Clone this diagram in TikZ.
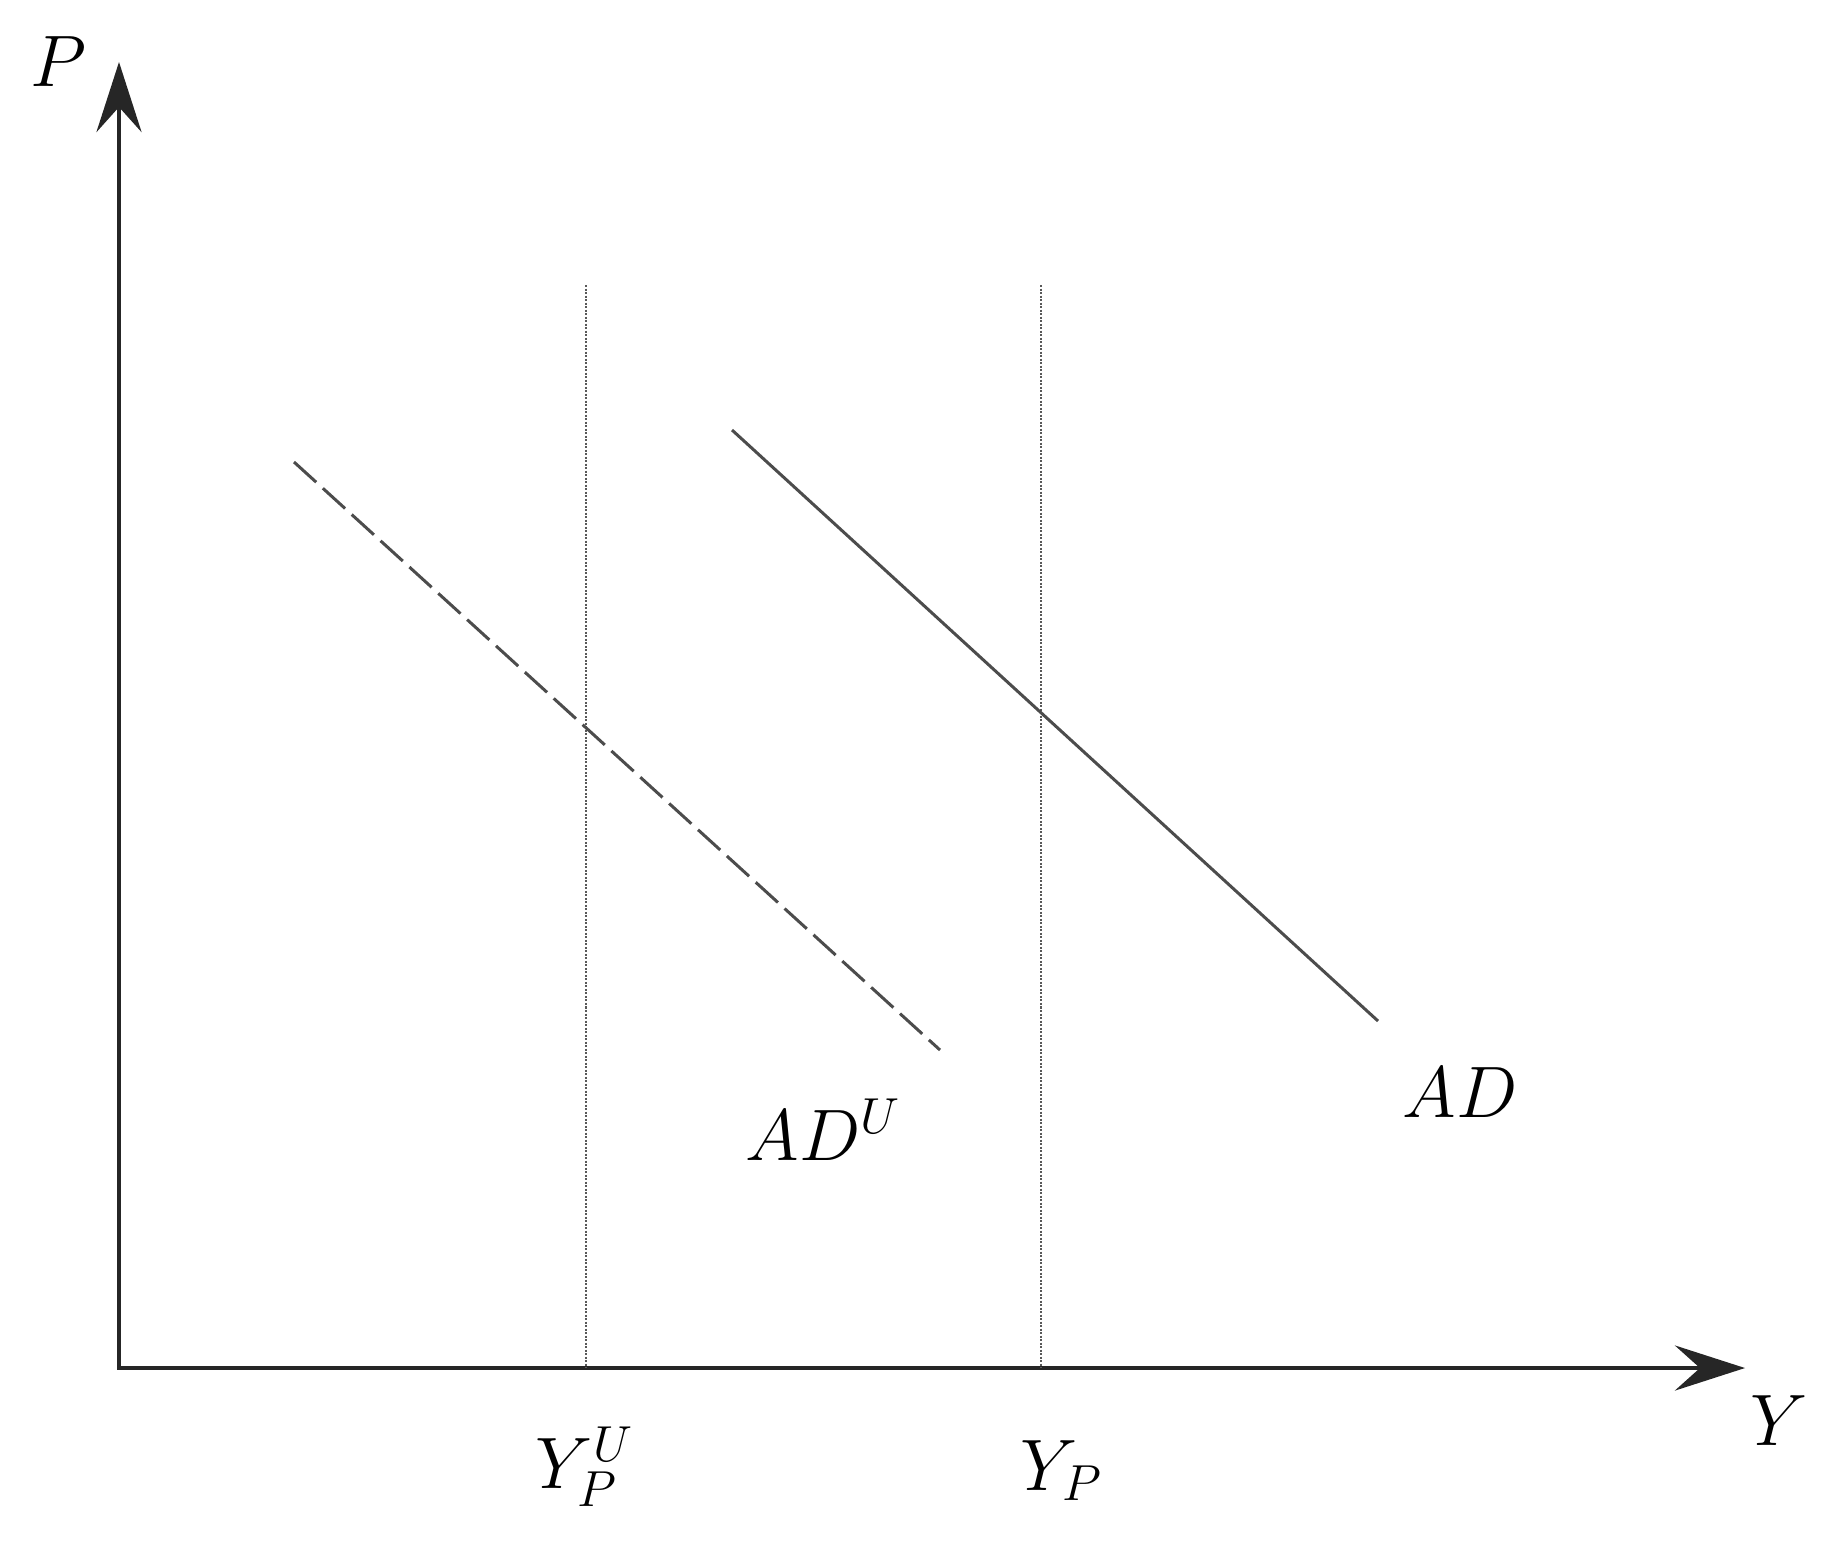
\documentclass[tikz,border=0pt]{standalone}
\usetikzlibrary{arrows.meta}
\begin{document}
\begin{tikzpicture}[x=0.01cm,y=-0.01cm,
  axis/.style={line width=0.048cm, black!85, line join=miter,
    {Stealth[length=0.7cm,width=0.45cm,inset=0.25cm]}-{Stealth[length=0.7cm,width=0.45cm,inset=0.25cm]}},
  guide/.style={line width=0.025cm, black!65, dash pattern=on 0.02cm off 0.015cm},
  curve/.style={line width=0.03cm, black!70},
  dcurve/.style={curve, dash pattern=on 0.3cm off 0.09cm},
  lbl/.style={anchor=base west, inner sep=0pt, font=\fontsize{22}{26}\selectfont}]
\useasboundingbox (0,0) rectangle (1843,1545);
% axes
\coordinate (O) at (119,1368);
\coordinate (Ptip) at (119,62);
\coordinate (Ytip) at (1745,1368);
\draw[axis] (Ptip) -- (O) -- (Ytip);
% vertical guide lines
\coordinate (v1top) at (586,285);
\coordinate (v1bot) at (586,1368);
\coordinate (v2top) at (1041,285);
\coordinate (v2bot) at (1041,1368);
\draw[guide] (v1top) -- (v1bot);
\draw[guide] (v2top) -- (v2bot);
% AD curves
\coordinate (adu1) at (294,462);
\coordinate (adu2) at (940,1050);
\coordinate (ad1) at (732,430);
\coordinate (ad2) at (1378,1021);
\draw[dcurve] (adu1) -- (adu2);
\draw[curve] (ad1) -- (ad2);
% labels
\node[lbl] (lP) at (30,86) {$P$};
\node[lbl] (lY) at (1750,1445) {$Y$};
\node[lbl] (lADU) at (745,1160) {$AD^U$};
\node[lbl] (lAD) at (1402,1117) {$AD$};
\node[lbl] (lYPU) at (535,1488) {$Y_P^U$};
\node[lbl] (lYP) at (1020,1490) {$Y_P$};
\end{tikzpicture}
\end{document}
